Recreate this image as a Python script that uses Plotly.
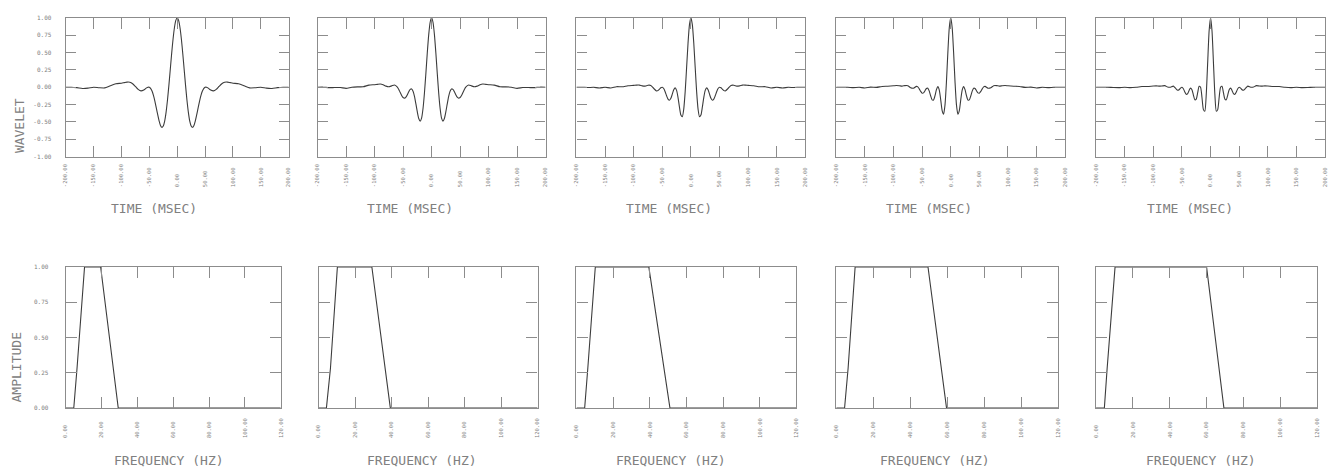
import plotly.graph_objects as go

# ---------------- data ----------------
TIME_MS = [-200, -190, -180, -170, -160, -150, -140, -130, -120, -110,
           -100, -95, -90, -85, -80, -75, -70, -65,
           -60, -57.5, -55, -52.5, -50, -47.5, -45, -42.5, -40, -37.5, -35, -32.5,
           -30, -27.5, -25, -22.5, -20, -17.5, -15, -12.5, -10, -7.5, -5, -2.5,
           0,
           2.5, 5, 7.5, 10, 12.5, 15, 17.5, 20, 22.5, 25, 27.5, 30,
           32.5, 35, 37.5, 40, 42.5, 45, 47.5, 50, 52.5, 55, 57.5, 60,
           65, 70, 75, 80, 85, 90, 95, 100,
           110, 120, 130, 140, 150, 160, 170, 180, 190, 200]

WAVELET_1 = [0.000, 0.001, -0.005, -0.017, -0.013, 0.000, -0.007, -0.009, 0.022, 0.050,
             0.058, 0.066, 0.074, 0.072, 0.051, 0.011, -0.031, -0.052,
             -0.040, -0.025, -0.009, 0.001, 0.000, -0.019, -0.058, -0.121, -0.202, -0.297, -0.395, -0.484,
             -0.549, -0.577, -0.559, -0.488, -0.362, -0.188, 0.023, 0.253, 0.483, 0.691, 0.857, 0.963,
             1.000,
             0.963, 0.857, 0.691, 0.483, 0.253, 0.023, -0.188, -0.362, -0.488, -0.559, -0.577, -0.549,
             -0.484, -0.395, -0.297, -0.202, -0.121, -0.058, -0.019, 0.000, 0.001, -0.009, -0.025, -0.040,
             -0.052, -0.031, 0.011, 0.051, 0.072, 0.074, 0.066, 0.058,
             0.050, 0.022, -0.009, -0.007, 0.000, -0.013, -0.017, -0.005, 0.001, 0.000]

WAVELET_2 = [0.000, 0.001, -0.006, -0.004, -0.004, -0.016, 0.001, 0.006, 0.007, 0.031,
             0.037, 0.042, 0.046, 0.036, 0.016, 0.007, 0.020, 0.033,
             0.003, -0.032, -0.076, -0.118, -0.147, -0.157, -0.142, -0.107, -0.064, -0.031, -0.024, -0.057,
             -0.132, -0.240, -0.356, -0.450, -0.488, -0.444, -0.306, -0.083, 0.199, 0.496, 0.757, 0.936,
             1.000,
             0.936, 0.757, 0.496, 0.199, -0.083, -0.306, -0.444, -0.488, -0.450, -0.356, -0.240, -0.132,
             -0.057, -0.024, -0.031, -0.064, -0.107, -0.142, -0.157, -0.147, -0.118, -0.076, -0.032, 0.003,
             0.033, 0.020, 0.007, 0.016, 0.036, 0.046, 0.042, 0.037,
             0.031, 0.007, 0.006, 0.001, -0.016, -0.004, -0.004, -0.006, 0.001, 0.000]

WAVELET_3 = [0.000, 0.000, -0.004, -0.001, -0.011, 0.000, -0.010, 0.008, 0.007, 0.021,
             0.027, 0.031, 0.031, 0.020, 0.016, 0.029, 0.026, -0.017,
             -0.053, -0.048, -0.029, -0.007, 0.000, -0.018, -0.064, -0.122, -0.171, -0.187, -0.160, -0.099,
             -0.036, -0.009, -0.045, -0.148, -0.286, -0.400, -0.425, -0.314, -0.063, 0.283, 0.637, 0.902,
             1.000,
             0.902, 0.637, 0.283, -0.063, -0.314, -0.425, -0.400, -0.286, -0.148, -0.045, -0.009, -0.036,
             -0.099, -0.160, -0.187, -0.171, -0.122, -0.064, -0.018, 0.000, -0.007, -0.029, -0.048, -0.053,
             -0.017, 0.026, 0.029, 0.016, 0.020, 0.031, 0.031, 0.027,
             0.021, 0.007, 0.008, -0.010, 0.000, -0.011, -0.001, -0.004, 0.000, 0.000]

WAVELET_4 = [0.000, -0.001, -0.001, -0.006, -0.001, -0.010, 0.002, -0.002, 0.011, 0.015,
             0.021, 0.025, 0.022, 0.016, 0.024, 0.023, -0.008, -0.014,
             0.012, 0.006, -0.023, -0.060, -0.085, -0.081, -0.050, -0.017, -0.014, -0.056, -0.126, -0.182,
             -0.184, -0.122, -0.035, 0.009, -0.041, -0.181, -0.336, -0.389, -0.253, 0.077, 0.503, 0.861,
             1.000,
             0.861, 0.503, 0.077, -0.253, -0.389, -0.336, -0.181, -0.041, 0.009, -0.035, -0.122, -0.184,
             -0.182, -0.126, -0.056, -0.014, -0.017, -0.050, -0.081, -0.085, -0.060, -0.023, 0.006, 0.012,
             -0.014, -0.008, 0.023, 0.024, 0.016, 0.022, 0.025, 0.021,
             0.015, 0.011, -0.002, 0.002, -0.010, -0.001, -0.006, -0.001, -0.001, 0.000]

WAVELET_5 = [0.000, -0.001, 0.000, -0.004, -0.006, 0.000, -0.005, 0.000, 0.010, 0.011,
             0.018, 0.020, 0.016, 0.017, 0.023, 0.003, 0.001, 0.016,
             -0.026, -0.043, -0.036, -0.012, 0.000, -0.021, -0.068, -0.102, -0.092, -0.046, -0.012, -0.035,
             -0.112, -0.180, -0.170, -0.079, 0.013, 0.000, -0.147, -0.322, -0.345, -0.099, 0.362, 0.813,
             1.000,
             0.813, 0.362, -0.099, -0.345, -0.322, -0.147, 0.000, 0.013, -0.079, -0.170, -0.180, -0.112,
             -0.035, -0.012, -0.046, -0.092, -0.102, -0.068, -0.021, 0.000, -0.012, -0.036, -0.043, -0.026,
             0.016, 0.001, 0.003, 0.023, 0.017, 0.016, 0.020, 0.018,
             0.011, 0.010, 0.000, -0.005, 0.000, -0.006, -0.004, 0.000, -0.001, 0.000]

FREQ_1 = [0, 4.5, 6.3, 10.5, 19.5, 29.3, 120]
FREQ_2 = [0, 4.3, 6.5, 10.3, 29.2, 39.3, 120]
FREQ_3 = [0, 4.5, 6.2, 10.3, 39.5, 51.0, 120]
FREQ_4 = [0, 4.5, 6.4, 10.2, 49.6, 59.6, 120]
FREQ_5 = [0, 4.5, 6.0, 10.3, 60.0, 69.4, 120]
AMPLITUDE = [0, 0, 0.28, 1.0, 1.0, 0, 0]

TIME_TICKS = [-200, -150, -100, -50, 0, 50, 100, 150, 200]
TIME_LABELS = ["-200.00", "-150.00", "-100.00", "-50.00", "0.00", "50.00", "100.00", "150.00", "200.00"]
FREQ_TICKS = [0, 20, 40, 60, 80, 100, 120]
FREQ_LABELS = ["0.00", "20.00", "40.00", "60.00", "80.00", "100.00", "120.00"]
WAV_TICKS = [-1.0, -0.75, -0.5, -0.25, 0.0, 0.25, 0.5, 0.75, 1.0]
WAV_LABELS = ["-1.00", "-0.75", "-0.50", "-0.25", "0.00", "0.25", "0.50", "0.75", "1.00"]
AMP_TICKS = [0.0, 0.25, 0.5, 0.75, 1.0]
AMP_LABELS = ["0.00", "0.25", "0.50", "0.75", "1.00"]

WAVELETS = [WAVELET_1, WAVELET_2, WAVELET_3, WAVELET_4, WAVELET_5]
FREQS = [FREQ_1, FREQ_2, FREQ_3, FREQ_4, FREQ_5]

# ---------------- layout ----------------
W, H = 1339, 473
TOP_PX = [(63, 287), (316, 545), (576, 806), (837, 1067), (1098, 1328)]
BOT_PX = [(63, 279), (317, 537), (576, 797), (837, 1060), (1098, 1320)]
TOP_Y = (14, 155)
BOT_Y = (267, 410)
TOP_TITLE_X = [152, 409, 669, 930, 1192]
BOT_TITLE_X = [167, 421, 671, 936, 1203]

FRAME = "#8c8c8c"
LINE = "#3c3c3c"
TXT = "#808080"
MONO = "DejaVu Sans Mono"


def pad(labels):
    n = max(len(s) for s in labels)
    return [s + "\u00a0" * (n - len(s)) for s in labels]


def xd(a, b):
    return [a / W, b / W]


def yd(t, b):
    return [1 - b / H, 1 - t / H]


fig = go.Figure()
layout = dict(width=W, height=H, autosize=False,
              margin=dict(l=0, r=0, t=0, b=0, pad=0),
              paper_bgcolor="white", plot_bgcolor="white",
              showlegend=False)

common = dict(showline=True, linecolor=FRAME, linewidth=1.2, mirror="allticks",
              ticks="inside", tickcolor=FRAME, tickwidth=1.2,
              showgrid=False, zeroline=False, fixedrange=True)

for i in range(5):
    n = i + 1
    xs = "" if n == 1 else str(n)
    fig.add_trace(go.Scatter(x=TIME_MS, y=WAVELETS[i], mode="lines",
                             line=dict(color=LINE, width=1.1, shape="spline", smoothing=0.6),
                             xaxis="x" + xs, yaxis="y" + xs, hoverinfo="skip"))
    layout["xaxis" + xs] = dict(common, domain=xd(*TOP_PX[i]), anchor="y" + xs,
                                range=[-200, 200], tickvals=TIME_TICKS, ticktext=pad(TIME_LABELS),
                                tickangle=-90, ticklen=11, ticklabelstandoff=4,
                                tickfont=dict(family=MONO, size=5.5, color=TXT))
    layout["yaxis" + xs] = dict(common, domain=yd(*TOP_Y), anchor="x" + xs,
                                range=[-1, 1], tickvals=WAV_TICKS, ticktext=WAV_LABELS,
                                ticklen=10, showticklabels=(i == 0), ticklabelstandoff=12,
                                tickfont=dict(family=MONO, size=6, color=TXT))

    m = i + 6
    ms = str(m)
    fig.add_trace(go.Scatter(x=FREQS[i], y=AMPLITUDE, mode="lines",
                             line=dict(color=LINE, width=1.1),
                             xaxis="x" + ms, yaxis="y" + ms, hoverinfo="skip"))
    layout["xaxis" + ms] = dict(common, domain=xd(*BOT_PX[i]), anchor="y" + ms,
                                range=[0, 120], tickvals=FREQ_TICKS, ticktext=pad(FREQ_LABELS),
                                tickangle=-90, ticklen=11, ticklabelstandoff=7,
                                tickfont=dict(family=MONO, size=5.5, color=TXT))
    layout["yaxis" + ms] = dict(common, domain=yd(*BOT_Y), anchor="x" + ms,
                                range=[0, 1], tickvals=AMP_TICKS, ticktext=AMP_LABELS,
                                ticklen=11, showticklabels=(i == 0), ticklabelstandoff=15,
                                tickfont=dict(family=MONO, size=6, color=TXT))

annotations = []
for i in range(5):
    annotations.append(dict(text="TIME (MSEC)", x=TOP_TITLE_X[i] / W, y=1 - 208 / H,
                            xref="paper", yref="paper", xanchor="center", yanchor="middle",
                            showarrow=False, font=dict(family=MONO, size=13, color=TXT)))
    annotations.append(dict(text="FREQUENCY (HZ)", x=BOT_TITLE_X[i] / W, y=1 - 463 / H,
                            xref="paper", yref="paper", xanchor="center", yanchor="middle",
                            showarrow=False, font=dict(family=MONO, size=13, color=TXT)))
annotations.append(dict(text="WAVELET", x=16 / W, y=1 - 123 / H, textangle=-90,
                        xref="paper", yref="paper", xanchor="center", yanchor="middle",
                        showarrow=False, font=dict(family=MONO, size=13, color=TXT)))
annotations.append(dict(text="AMPLITUDE", x=14 / W, y=1 - 369 / H, textangle=-90,
                        xref="paper", yref="paper", xanchor="center", yanchor="middle",
                        showarrow=False, font=dict(family=MONO, size=13, color=TXT)))
layout["annotations"] = annotations

fig.update_layout(**layout)
fig.write_html("out.html")
